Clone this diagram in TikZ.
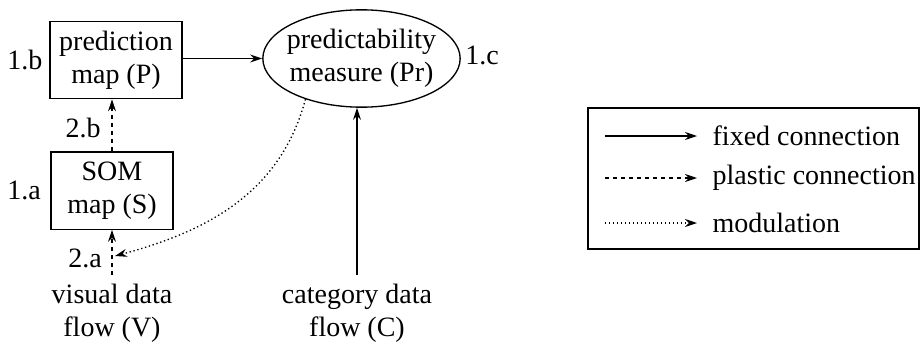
\documentclass[tikz,border=0pt]{standalone}
\usepackage{fontspec}
\setmainfont{Liberation Serif}
\usetikzlibrary{arrows.meta,shapes.geometric}

\begin{document}
\begin{tikzpicture}[x=0.75pt, y=-0.75pt, line width=1pt,
    >={Stealth[length=9pt, width=6pt, inset=3pt]},
    font=\fontsize{21}{25}\selectfont,
    mapbox/.style={draw, rectangle, align=center, minimum height=58pt},
    flow/.style={align=center, inner sep=6pt},
    fixed/.style={->},
    plastic/.style={->, dashed},
    modul/.style={->, dotted}]
    \useasboundingbox (0,0) rectangle (922,343);

    \draw
        (116, 60) node[mapbox, minimum width=99pt] (P){prediction\\map (P)}
        (112, 190.5) node[mapbox, minimum width=91.5pt] (S){SOM\\map (S)}
        (361.5, 58.5) node[draw, ellipse, align=center, inner xsep=-5pt, inner ysep=0pt,
            minimum width=148pt, minimum height=73pt] (Pr){predictability\\measure (Pr)}
        (112, 313) node[flow] (V){visual data\\flow (V)}
        (357, 313) node[flow] (C){category data\\flow (C)};

    \node (lb) at (25, 60) {1.b};
    \node (la) at (24, 190) {1.a};
    \node (lc) at (482, 55) {1.c};
    \node (l2b) at (83, 128) {2.b};
    \node (l2a) at (85, 258) {2.a};
    \coordinate (mod) at (115, 256);

    \begin{scope}
        \draw[fixed] (P.east |- Pr.west) to (Pr.west);
        \draw[fixed] (C.north) to (C.north |- Pr.south);
        \draw[plastic] (S.north) to (S.north |- P.south);
        \draw[plastic] (V.north) to (S.south);
        \draw[modul] (Pr.216) to[out=-105, in=15] (mod);
    \end{scope}

    % legend
    \draw (588, 108) coordinate (key) rectangle (919, 249);
    \coordinate (k1a) at (605, 136);
    \coordinate (k1b) at (697, 136);
    \coordinate (k2a) at (605, 178);
    \coordinate (k2b) at (697, 178);
    \coordinate (k3a) at (605, 223);
    \coordinate (k3b) at (697, 223);
    \draw[fixed] (k1a) to (k1b);
    \draw[plastic] (k2a) to (k2b);
    \draw[modul] (k3a) to (k3b);
    \node[anchor=west, inner sep=0pt] (t1) at (712, 136) {fixed connection};
    \node[anchor=west, inner sep=0pt] (t2) at (712, 178) {plastic connection};
    \node[anchor=west, inner sep=0pt] (t3) at (712, 223) {modulation};
\end{tikzpicture}
\end{document}
